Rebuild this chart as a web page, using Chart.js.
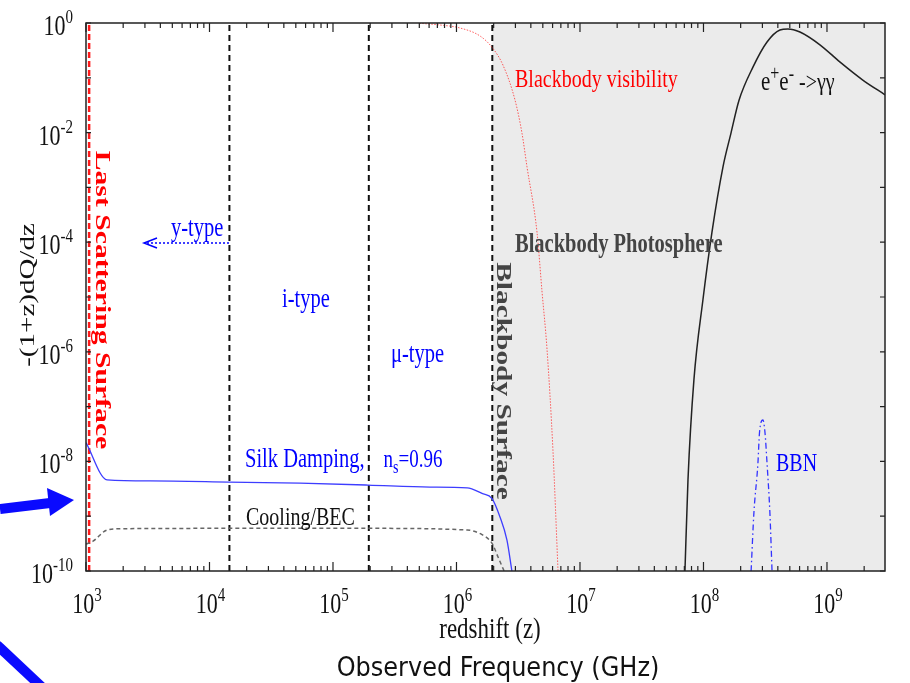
<!DOCTYPE html>
<html>
<head>
<meta charset="utf-8">
<script src="https://cdn.jsdelivr.net/npm/chart.js@4.4.0/dist/chart.umd.min.js"></script>
<style>
  body { margin: 0; background: #fff; }
  #wrap { width: 910px; height: 683px; }
</style>
</head>
<body>
<div id="wrap"><canvas id="spectra"></canvas></div>
<script>
// values (x = redshift z, y = -(1+z)dQ/dz)
const silkZ = [1000, 1480, 3300, 14400, 54000, 192000, 610000, 1220000, 1610000, 1940000, 2250000, 2560000, 2810000];
const silkY = [2.2e-8, 4.6e-9, 4.4e-9, 4.2e-9, 4.0e-9, 3.7e-9, 3.4e-9, 3.3e-9, 2.6e-9, 2.1e-9, 9.7e-10, 3.7e-10, 1e-10];

const coolZ = [1000, 1140, 1480, 1880, 14400, 192000, 1220000, 1610000, 1940000, 2170000, 2430000];
const coolY = [3.1e-10, 3.5e-10, 5.6e-10, 5.9e-10, 6.0e-10, 6.0e-10, 5.6e-10, 4.6e-10, 3.2e-10, 1.8e-10, 1e-10];

const visZ = [500000, 735000, 1070000, 1550000, 1940000, 2380000, 2980000, 3390000, 3720000, 4490000, 4920000, 5410000, 6040000, 6640000];
const visY = [0.99, 0.92, 0.81, 0.58, 0.36, 0.17, 0.039, 9.8e-3, 2.4e-3, 1.5e-4, 1.3e-5, 1.1e-6, 1.6e-8, 1e-10];

const eeZ = [7.08e7, 7.49e7, 8.37e7, 9.9e7, 1.17e8, 1.44e8, 1.67e8, 1.94e8, 2.52e8, 3.27e8, 4.16e8, 4.83e8, 6.04e8, 8.77e8, 1.27e9, 1.95e9, 2.95e9];
const eeY = [1e-10, 4.6e-9, 3.1e-7, 8.9e-6, 1.5e-4, 2.4e-3, 9.8e-3, 0.039, 0.158, 0.45, 0.745, 0.78, 0.685, 0.40, 0.195, 0.091, 0.049];

const bbnZ = [2.43e8, 2.56e8, 2.76e8, 2.84e8, 3.03e8, 3.15e8, 3.27e8, 3.45e8, 3.59e8];
const bbnY = [1e-10, 1.15e-9, 9.3e-9, 3.3e-8, 5.7e-8, 3.3e-8, 9.3e-9, 1.15e-9, 1e-10];

const lastScatterZ = 1060;
const eraBoundsZ = [14500, 195000, 1950000];
const photosphereZ = [1950000, 2950000000];

const zMin = 1000, zMax = 2950000000;
const yMin = 1e-10, yMax = 1;
const xTickExps = [3, 4, 5, 6, 7, 8, 9];
const yTickExps = [0, -2, -4, -6, -8, -10];

function pts(xs, ys) {
    return xs.map((x, i) => ({x: x, y: ys[i]}));
}
function vline(z) {
    return [{x: z, y: yMin}, {x: z, y: yMax}];
}

const serif = '"Liberation Serif", "DejaVu Serif", serif';
const STRETCH = 1.3; // the original figure's text is drawn tall

const datasets = [{
    data: pts(photosphereZ, [yMax, yMax]),
    borderWidth: 0,
    backgroundColor: '#ebebeb',
    fill: 'start',
    order: 10
}, {
    data: vline(lastScatterZ),
    borderColor: '#ff1a1a',
    borderWidth: 2.5,
    borderDash: [6, 3],
    order: 5
}];
eraBoundsZ.forEach(z => datasets.push({
    data: vline(z),
    borderColor: '#111',
    borderWidth: 2,
    borderDash: [6, 4],
    order: 5
}));
datasets.push({
    data: pts(silkZ, silkY),
    borderColor: '#3d3dff',
    borderWidth: 1.3,
    cubicInterpolationMode: 'monotone',
    order: 1
}, {
    data: pts(coolZ, coolY),
    borderColor: '#666',
    borderWidth: 1.5,
    borderDash: [4, 3],
    cubicInterpolationMode: 'monotone',
    order: 1
}, {
    data: pts(visZ, visY),
    borderColor: 'rgba(255,40,40,0.75)',
    borderWidth: 1,
    borderDash: [1.5, 1.5],
    cubicInterpolationMode: 'monotone',
    order: 1
}, {
    data: pts(eeZ, eeY),
    borderColor: '#222',
    borderWidth: 1.5,
    cubicInterpolationMode: 'monotone',
    order: 1
}, {
    data: pts(bbnZ, bbnY),
    borderColor: '#3333ff',
    borderWidth: 1.3,
    borderDash: [6, 3, 1.5, 3],
    cubicInterpolationMode: 'monotone',
    order: 1
});

// text placed on the figure
const notes = [
    {text: 'Blackbody visibility', x: 515, y: 87, color: '#ff0000', font: '20px ' + serif},
    {text: 'Blackbody Photosphere', x: 515, y: 252, color: '#444', font: 'bold 20.5px ' + serif},
    {text: 'y-type', x: 171, y: 236, color: '#0000ff', font: '20.5px ' + serif},
    {text: 'i-type', x: 282, y: 307, color: '#0000ff', font: '20.5px ' + serif},
    {text: '\u03bc-type', x: 391, y: 362, color: '#0000ff', font: '20.5px ' + serif},
    {text: 'Cooling/BEC', x: 246, y: 525, color: '#111', font: '20px ' + serif},
    {text: 'BBN', x: 776, y: 471, color: '#0000ff', font: '20px ' + serif}
];

// horizontal text, stretched vertically about its baseline
function tallText(ctx, str, x, y, sy) {
    ctx.save();
    ctx.translate(x, y);
    ctx.scale(1, sy);
    ctx.fillText(str, 0, 0);
    ctx.restore();
}
// rotated text, stretched along its own direction
function sideText(ctx, str, x, y, angle, sx) {
    ctx.save();
    ctx.translate(x, y);
    ctx.rotate(angle);
    ctx.scale(sx, 1);
    ctx.textAlign = 'center';
    ctx.fillText(str, 0, 0);
    ctx.restore();
}

function supText(ctx, parts, x, y, align) {
    // parts: [text, raise, size]
    let w = 0;
    parts.forEach(p => { ctx.font = p[2] + 'px ' + serif; w += ctx.measureText(p[0]).width; });
    let cx = align === 'center' ? x - w / 2 : (align === 'right' ? x - w : x);
    ctx.textAlign = 'left';
    parts.forEach(p => {
        ctx.font = p[2] + 'px ' + serif;
        tallText(ctx, p[0], cx, y - p[1], STRETCH);
        cx += ctx.measureText(p[0]).width;
    });
}

const decorPlugin = {
    id: 'decor',
    afterDatasetsDraw(chart) {
        const ctx = chart.ctx;
        const a = chart.chartArea;
        const xs = chart.scales.x, ys = chart.scales.y;
        ctx.save();

        // frame
        ctx.strokeStyle = '#222';
        ctx.lineWidth = 1.5;
        ctx.strokeRect(a.left, a.top, a.right - a.left, a.bottom - a.top);

        // inward ticks
        ctx.lineWidth = 1.2;
        ctx.beginPath();
        for (let e = 3; e <= 9; e++) {
            for (let k = 1; k <= 9; k++) {
                const v = k * Math.pow(10, e);
                if (v > zMax) break;
                const px = xs.getPixelForValue(v);
                const len = k === 1 ? 9 : 5;
                ctx.moveTo(px, a.bottom); ctx.lineTo(px, a.bottom - len);
                ctx.moveTo(px, a.top); ctx.lineTo(px, a.top + len);
            }
        }
        for (let e = 0; e >= -10; e--) {
            const py = ys.getPixelForValue(Math.pow(10, e));
            ctx.moveTo(a.left, py); ctx.lineTo(a.left + 5, py);
            ctx.moveTo(a.right, py); ctx.lineTo(a.right - 5, py);
        }
        ctx.stroke();

        // tick labels
        ctx.fillStyle = '#111';
        ctx.textBaseline = 'alphabetic';
        xTickExps.forEach(e => {
            const px = xs.getPixelForValue(Math.pow(10, e));
            supText(ctx, [['10', 0, 22], [String(e), 12, 15]], px + 1, a.bottom + 42, 'center');
        });
        yTickExps.forEach(e => {
            const py = ys.getPixelForValue(Math.pow(10, e));
            supText(ctx, [['10', 0, 22], [String(e), 12, 15]], a.left - 13, py + 12, 'right');
        });

        // axis titles
        ctx.textAlign = 'center';
        ctx.font = '23px ' + serif;
        tallText(ctx, 'redshift (z)', 490, 638, STRETCH);
        ctx.font = '24px "DejaVu Sans", sans-serif';
        tallText(ctx, 'Observed Frequency (GHz)', 498, 676, 1.12);
        ctx.font = '20px ' + serif;
        sideText(ctx, '-(1+z)dQ/dz', 34, 295, -Math.PI / 2, 1.45);

        // rotated surface labels
        ctx.fillStyle = '#ff0000';
        ctx.font = 'bold 22px ' + serif;
        sideText(ctx, 'Last Scattering Surface', 96, 300, Math.PI / 2, 1.35);
        ctx.fillStyle = '#444';
        ctx.font = 'bold 21px ' + serif;
        sideText(ctx, 'Blackbody Surface', 497, 381, Math.PI / 2, 1.4);

        // plain notes
        ctx.textAlign = 'left';
        notes.forEach(n => {
            ctx.fillStyle = n.color;
            ctx.font = n.font;
            tallText(ctx, n.text, n.x, n.y, STRETCH);
        });

        // notes with sub/superscripts
        ctx.fillStyle = '#0000ff';
        supText(ctx, [['Silk Damping,', 0, 20.5], ['    n', 0, 19], ['s', -6, 14], ['=0.96', 0, 19]], 245, 467, 'left');
        ctx.fillStyle = '#111';
        supText(ctx, [['e', 0, 21], ['+', 10, 16], ['e', 0, 21], ['-', 10, 16], [' ->\u03b3\u03b3', 0, 20]], 761, 90, 'left');

        // y-type arrow
        ctx.strokeStyle = '#0000ff';
        ctx.lineWidth = 1.5;
        ctx.setLineDash([2, 2]);
        ctx.beginPath();
        ctx.moveTo(229, 243); ctx.lineTo(145, 243);
        ctx.stroke();
        ctx.setLineDash([]);
        ctx.beginPath();
        ctx.moveTo(157, 238); ctx.lineTo(144, 243); ctx.lineTo(157, 248);
        ctx.stroke();

        // blue pointer arrows on the left margin
        ctx.fillStyle = '#0a0aff';
        ctx.strokeStyle = '#0a0aff';
        ctx.lineWidth = 10;
        ctx.beginPath();
        ctx.moveTo(0, 509); ctx.lineTo(50, 503);
        ctx.stroke();
        ctx.beginPath();
        ctx.moveTo(47, 488); ctx.lineTo(74, 500); ctx.lineTo(50, 516);
        ctx.closePath();
        ctx.fill();
        ctx.beginPath();
        ctx.moveTo(-3, 645); ctx.lineTo(45, 690);
        ctx.stroke();

        ctx.restore();
    }
};

new Chart(document.getElementById('spectra'), {
    type: 'line',
    data: {datasets: datasets},
    options: {
        responsive: true,
        maintainAspectRatio: false,
        animation: false,
        layout: {padding: {left: 86, right: 25, top: 23, bottom: 112}},
        elements: {point: {radius: 0}, line: {fill: false}},
        plugins: {legend: {display: false}, tooltip: {enabled: false}},
        scales: {
            x: {type: 'logarithmic', min: zMin, max: zMax, display: false},
            y: {type: 'logarithmic', min: yMin, max: yMax, display: false}
        }
    },
    plugins: [decorPlugin]
});
</script>
</body>
</html>
